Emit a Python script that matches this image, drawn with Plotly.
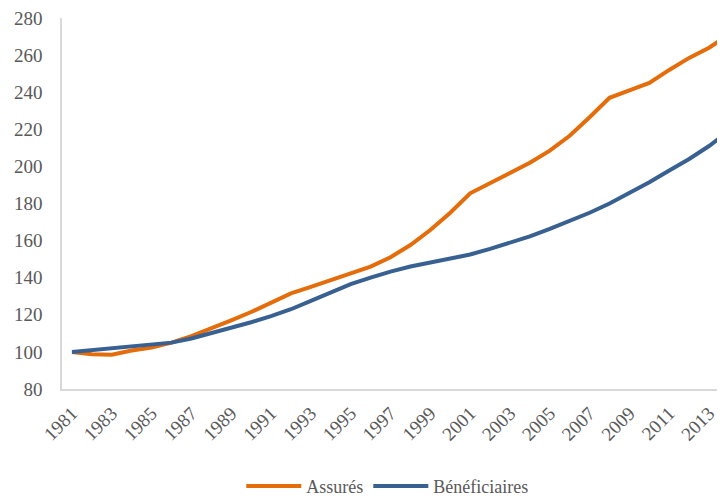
import plotly.graph_objects as go

years = list(range(1981, 2015))
assures = [100, 98.8, 98.5, 100.8, 102.3, 105, 108.5, 112.5, 117, 121.5,
           126.5, 131.5, 135, 138.5, 142.3, 146, 151, 157.6, 165.7, 175,
           185.5, 191, 196.5, 202, 208.5, 216.5, 226.5, 237, 241, 245,
           252, 258.5, 264, 271]
beneficiaires = [100, 101, 102, 103, 104, 105, 107.2, 110, 113, 116,
                 119.3, 123, 127.5, 132, 136.5, 140, 143.3, 146, 148.3, 150.5,
                 152.5, 155.5, 158.7, 162.3, 166.3, 170.6, 175, 180, 185.7, 191.5,
                 197.8, 204, 211, 219]
tick_years = list(range(1981, 2014, 2))
tick_text = [str(y) for y in tick_years]

fig = go.Figure()
fig.add_trace(go.Scatter(x=years, y=assures, mode="lines", name="Assurés",
                         line=dict(color="#E46C0A", width=4)))
fig.add_trace(go.Scatter(x=years, y=beneficiaires, mode="lines", name="Bénéficiaires",
                         line=dict(color="#386192", width=4)))

font = "Liberation Serif"
fig.update_layout(
    width=717, height=490,
    margin=dict(l=54, r=0, t=10, b=109, autoexpand=False),
    paper_bgcolor="white", plot_bgcolor="white",
    font=dict(family=font, color="#595959", size=19),
    showlegend=True,
    legend=dict(orientation="h", x=0.529, xref="container", xanchor="center",
                y=0.024, yref="container", yanchor="middle",
                font=dict(family=font, size=18, color="#595959"), itemwidth=55,
                traceorder="normal"),
    xaxis=dict(range=[1980.5, 2013.8], tickvals=tick_years, ticktext=tick_text,
               tickangle=-45, showgrid=False, zeroline=False,
               showline=True, linecolor="#D9D9D9", linewidth=1.5,
               ticks="outside", ticklen=4, tickcolor="rgba(0,0,0,0)",
               ticklabeloverflow="allow",
               tickfont=dict(family=font, size=19)),
    yaxis=dict(range=[80, 280], dtick=20, tick0=80, showgrid=False, zeroline=False,
               showline=True, linecolor="#D9D9D9", linewidth=1.5,
               ticks="outside", ticklen=14, tickcolor="rgba(0,0,0,0)",
               ticklabeloverflow="allow",
               tickfont=dict(family=font, size=19)),
)

fig.write_html("out.html")
